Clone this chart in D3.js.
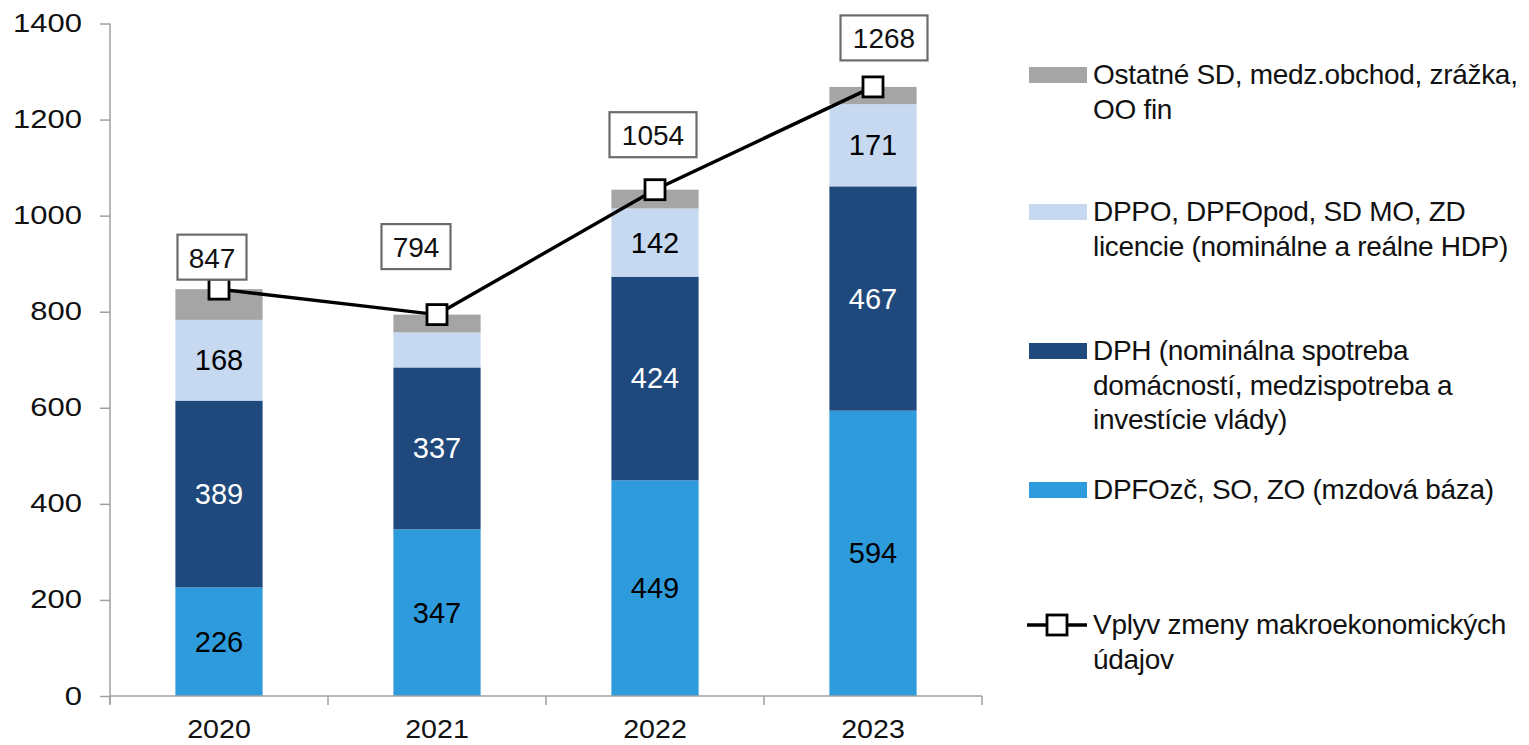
<!DOCTYPE html>
<html><head><meta charset="utf-8">
<script src="https://cdn.jsdelivr.net/npm/d3@7"></script>
<style>
body{margin:0;background:#fff;}
text{font-family:"Liberation Sans",Arial,Helvetica,sans-serif;}
</style></head>
<body><svg id="c" width="1529" height="745"></svg>
<script>
// ---- data ----
const years = ["2020","2021","2022","2023"];
const mzdova = [226, 347, 449, 594];      // DPFOzč, SO, ZO
const dph = [389, 337, 424, 467];          // DPH
const dppo = [168, 73, 142, 171];          // DPPO, DPFOpod...
const ostatne = [64, 37, 39, 36];          // Ostatné SD...
const vplyv = [847, 794, 1054, 1268];      // line totals
const dppoLabels = ["168", null, "142", "171"];
const yTicks = [0,200,400,600,800,1000,1200,1400];
const legendLabels = [
  ["Ostatné SD, medz.obchod, zrážka,", "OO fin"],
  ["DPPO, DPFOpod, SD MO, ZD", "licencie (nominálne a reálne HDP)"],
  ["DPH (nominálna spotreba", "domácností, medzispotreba a", "investície vlády)"],
  ["DPFOzč, SO, ZO (mzdová báza)"],
  ["Vplyv zmeny makroekonomických", "údajov"]
];
// layout (not data)
const boxOffsets = [[-7,-32],[-21,-68],[-2,-55],[11,-49]];

const svg = d3.select("#c");
const L=110, R=982, T=23.5, B=696;
const x = d3.scaleBand().domain(years).range([L,R]).padding(0);
const y = d3.scaleLinear().domain([0,1400]).range([B,T]);
const barW = x.bandwidth()*0.4;
const cx = d => x(d)+x.bandwidth()/2;

const colors = {blue:"#2e9bdc", dark:"#1f497c", light:"#c6d9f1", gray:"#a5a5a5"};

const series = [
  {key:"blue", vals:mzdova, labels:mzdova.map(String), tc:"#000"},
  {key:"dark", vals:dph, labels:dph.map(String), tc:"#fff"},
  {key:"light", vals:dppo, labels:dppoLabels, tc:"#000"},
  {key:"gray", vals:ostatne, labels:[null,null,null,null], tc:"#000"}
];

// bars
const base = years.map(()=>0);
series.forEach(s=>{
  const g = svg.append("g");
  years.forEach((yr,i)=>{
    const y0 = base[i], y1 = base[i]+s.vals[i];
    g.append("rect").attr("x",cx(yr)-barW/2).attr("width",barW)
      .attr("y",y(y1)).attr("height",y(y0)-y(y1)).attr("fill",colors[s.key]);
    if(s.labels[i]){
      g.append("text").attr("x",cx(yr)).attr("y",(y(y0)+y(y1))/2)
        .attr("text-anchor","middle").attr("dominant-baseline","central")
        .attr("font-size",29).attr("fill",s.tc).text(s.labels[i]);
    }
    base[i]=y1;
  });
});

// axes
const ya = svg.append("g").attr("transform",`translate(${L},0)`)
  .call(d3.axisLeft(y).tickValues(yTicks).tickSize(10).tickPadding(0).tickFormat(d3.format("d")));
ya.select(".domain").attr("stroke","#a0a0a0").attr("stroke-width",1.5).attr("d",`M0,${B+8}V${T}`);
ya.selectAll(".tick line").attr("stroke","#a0a0a0").attr("stroke-width",1.5);
ya.selectAll(".tick text").attr("x",null).attr("transform","translate(-28,0) scale(1.24,1)")
  .attr("font-size",25).attr("fill","#111").attr("font-family",null);

const xa = svg.append("g").attr("transform",`translate(0,${B})`)
  .call(d3.axisBottom(x).tickSize(0).tickPadding(0));
xa.select(".domain").attr("stroke","#a0a0a0").attr("stroke-width",1.5).attr("d",`M${L},0H${R}`);
xa.selectAll(".tick text").attr("y",null).attr("dy",null).attr("transform","translate(0,42) scale(1.1,1)")
  .attr("font-size",26).attr("fill","#111").attr("font-family",null);
// category separator ticks
const sep = years.map(d=>x(d)).concat([R]);
svg.append("g").selectAll("line").data(sep).join("line")
  .attr("x1",d=>d).attr("x2",d=>d).attr("y1",B).attr("y2",B+9)
  .attr("stroke","#a0a0a0").attr("stroke-width",1.5);

// line
const line = d3.line().x((d,i)=>cx(years[i])).y(d=>y(d));
svg.append("path").datum(vplyv).attr("d",line).attr("fill","none")
  .attr("stroke","#000").attr("stroke-width",3.4);
svg.append("g").selectAll("rect").data(vplyv).join("rect")
  .attr("x",(d,i)=>cx(years[i])-10).attr("y",d=>y(d)-10)
  .attr("width",20).attr("height",20).attr("fill","#fff")
  .attr("stroke","#000").attr("stroke-width",2.8);

// value boxes
vplyv.forEach((v,i)=>{
  const bx = cx(years[i])+boxOffsets[i][0], by = y(v)+boxOffsets[i][1];
  const w = String(v).length===4 ? 87 : 69, h = 45;
  svg.append("rect").attr("x",bx-w/2).attr("y",by-h/2).attr("width",w).attr("height",h)
    .attr("fill","#fff").attr("stroke","#6b6b6b").attr("stroke-width",2.2);
  svg.append("text").attr("x",bx).attr("y",by+1).attr("text-anchor","middle")
    .attr("dominant-baseline","central").attr("font-size",28).attr("fill","#111").text(v);
});

// legend
const legY = [75, 212, 351, 490, 625];
const legKeys = ["gray","light","dark","blue","line"];
const lg = svg.append("g");
legKeys.forEach((k,i)=>{
  const cy = legY[i];
  if(k==="line"){
    lg.append("line").attr("x1",1027).attr("x2",1087).attr("y1",cy).attr("y2",cy)
      .attr("stroke","#000").attr("stroke-width",3.4);
    lg.append("rect").attr("x",1047).attr("y",cy-10).attr("width",20).attr("height",20)
      .attr("fill","#fff").attr("stroke","#000").attr("stroke-width",2.8);
  } else {
    lg.append("rect").attr("x",1029).attr("y",cy-8).attr("width",58).attr("height",16)
      .attr("fill",colors[k]);
  }
  legendLabels[i].forEach((t,j)=>{
    lg.append("text").attr("x",1093).attr("y",cy+9+j*34.5)
      .attr("font-size",28).attr("letter-spacing",-0.3).attr("fill","#111").text(t);
  });
});
</script></body></html>
